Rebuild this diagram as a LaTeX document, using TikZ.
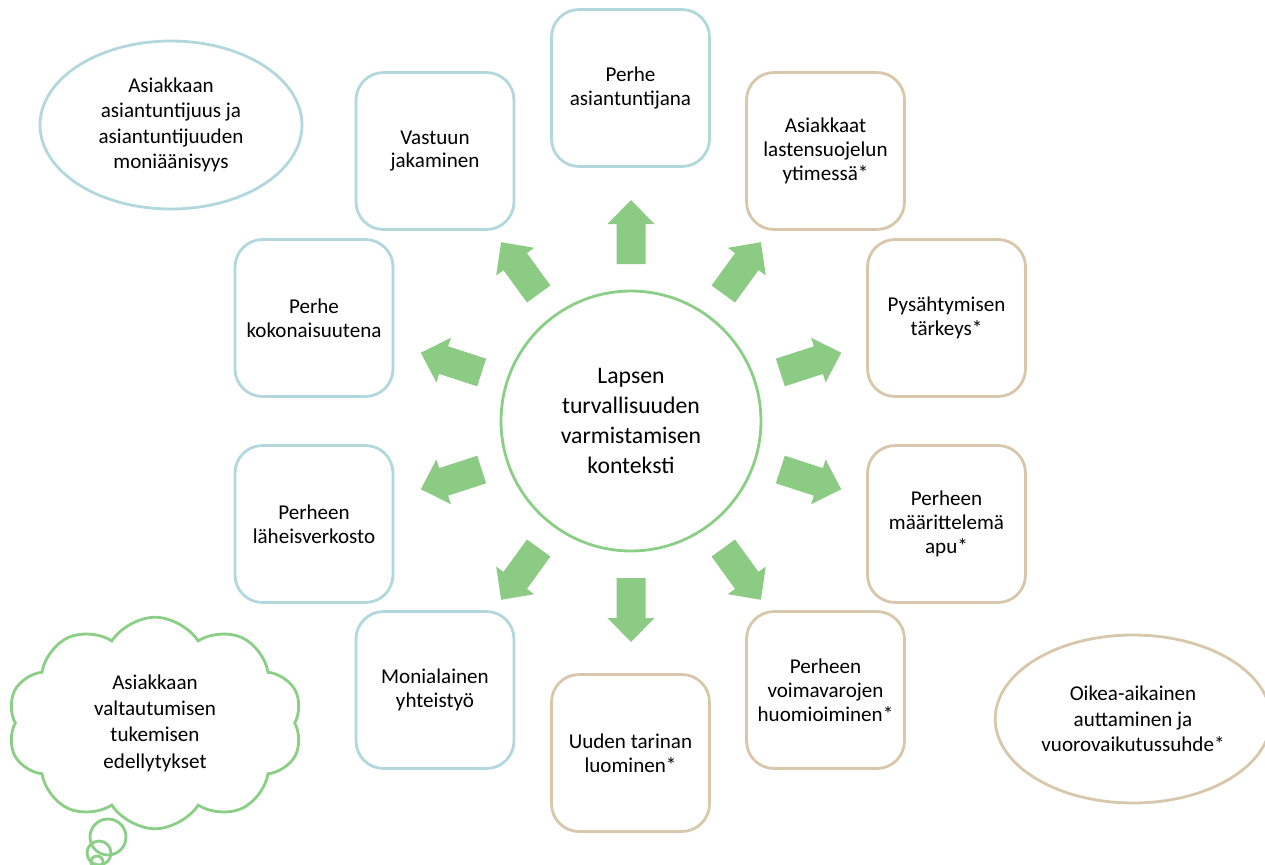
\documentclass[tikz,border=0pt]{standalone}
\usepackage{fontspec}
\setmainfont{Carlito}
\usepackage{tikz}
\usetikzlibrary{shapes.geometric, shapes.symbols}

\definecolor{arrowgreen}{RGB}{139,203,132}
\definecolor{ringgreen}{RGB}{139,206,134}
\definecolor{boxblue}{RGB}{178,216,222}
\definecolor{boxtan}{RGB}{216,199,170}

\begin{document}
\begin{tikzpicture}[x=0.02cm, y=0.02cm,
        box/.style={draw, line width=1.6pt, rounded corners=0.55cm, minimum width=3.16cm, minimum height=3.14cm, align=center, font=\fontsize{12}{13.6}\selectfont},
        bluebox/.style={box, draw=boxblue},
        tanbox/.style={box, draw=boxtan},
        oval/.style={ellipse, draw, line width=1.6pt, minimum width=5.24cm, minimum height=3.36cm, align=center, font=\fontsize{12}{14.5}\selectfont}]
        \useasboundingbox (0,0) rectangle (1265,-865);

        % centre
        \node [circle, draw=ringgreen, line width=1.6pt, minimum size=5.2cm, align=center, font=\fontsize{13.5}{17}\selectfont] (lapsi) at (631,-421) {Lapsen\\turvallisuuden\\varmistamisen\\konteksti};

        % boxes round the centre
        \node [bluebox] (perhe) at (630.5,-88) {Perhe\\asiantuntijana};
        \node [bluebox] (vastuu) at (435,-151) {Vastuun\\jakaminen};
        \node [tanbox] (ydin) at (825.5,-151) {Asiakkaat\\lastensuojelun\\ytimessä*};
        \node [bluebox] (kokon) at (314,-318) {Perhe\\kokonaisuutena};
        \node [tanbox] (pysah) at (946.5,-318) {Pysähtymisen\\tärkeys*};
        \node [bluebox] (verkko) at (314,-524) {Perheen\\läheisverkosto};
        \node [tanbox] (apu) at (946.5,-524) {Perheen\\määrittelemä\\apu*};
        \node [bluebox] (monial) at (435,-690) {Monialainen\\yhteistyö};
        \node [tanbox] (voima) at (825.5,-690) {Perheen\\voimavarojen\\huomioiminen*};
        \node [tanbox] (tarina) at (630.5,-753) {Uuden tarinan\\luominen*};

        \foreach \a in {90, 54, 18, -18, -54, -90, -126, -162, 162, 126} {
            \fill [arrowgreen, shift={(lapsi.center)}, rotate=\a] (157,-14.5) -- (197,-14.5) -- (197,-23.5) -- (221,0) -- (197,23.5) -- (197,14.5) -- (157,14.5) -- cycle;
        }

        % side notes
        \node [oval, draw=boxblue] (asiantunt) at (171,-125) {Asiakkaan\\asiantuntijuus ja\\asiantuntijuuden\\moniäänisyys};
        \node [oval, draw=boxtan] (oikea) at (1133,-719) {Oikea-aikainen\\auttaminen ja\\vuorovaikutussuhde*};

        \node [cloud, draw=ringgreen, line width=1.6pt, cloud puffs=10, cloud puff arc=115, minimum width=5.9cm, minimum height=4cm, align=center, font=\fontsize{12}{15}\selectfont] (valta) at (155,-723) {Asiakkaan\\valtautumisen\\tukemisen\\edellytykset};
        \draw [ringgreen, line width=1.6pt] (108,-837) circle (18);
        \draw [ringgreen, line width=1.6pt] (99,-853) circle (12);
        \draw [ringgreen, line width=1.6pt] (97,-862) circle (6);
    \end{tikzpicture}
\end{document}
